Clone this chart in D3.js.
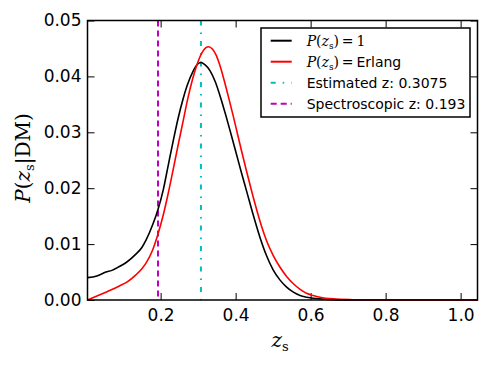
<!DOCTYPE html>
<html lang="en">
<head>
<meta charset="UTF-8">
<title>P(zs|DM)</title>
<script src="https://d3js.org/d3.v7.min.js"></script>
<style>
    body { margin: 0; background: #fff; }
    svg { display: block; }
    .axis text { font-family: "DejaVu Sans", sans-serif; font-size: 17px; fill: #000; }
    .axis line { stroke: #000; stroke-width: 1; }
    .legend text { font-family: "DejaVu Sans", sans-serif; font-size: 14px; }
    .math { font-family: "DejaVu Serif", "Liberation Serif", serif; }
</style>
</head>
<body>
<svg id="chart" width="490" height="366"></svg>
<script>
// P(zs) = 1 curve
const flatZ = [0.005, 0.03, 0.054, 0.07, 0.09, 0.11, 0.134, 0.15, 0.161, 0.179, 0.193, 0.207,
    0.220, 0.234, 0.247, 0.260, 0.271, 0.287, 0.300, 0.308, 0.318, 0.332, 0.346, 0.360,
    0.374, 0.388, 0.401, 0.415, 0.430, 0.447, 0.465, 0.482, 0.500, 0.518, 0.536, 0.554,
    0.572, 0.590, 0.607, 0.643, 0.70, 0.80, 1.045];
const flatP = [0.0040, 0.0043, 0.0050, 0.0053, 0.0060, 0.0068, 0.0082, 0.0094, 0.0107, 0.0135, 0.0162, 0.0197,
    0.0240, 0.0286, 0.0326, 0.0360, 0.0384, 0.0410, 0.0423, 0.0425, 0.0421, 0.0410, 0.0390, 0.0362,
    0.0330, 0.0296, 0.0264, 0.0229, 0.0193, 0.0152, 0.0112, 0.0080, 0.0054, 0.0036, 0.0023, 0.0014,
    0.0008, 0.0005, 0.0003, 0.0001, 0.0, 0.0, 0.0];

// P(zs) = Erlang curve
const erlangZ = [0.005, 0.03, 0.054, 0.09, 0.11, 0.134, 0.150, 0.161, 0.179, 0.193, 0.207, 0.220,
    0.233, 0.246, 0.260, 0.273, 0.286, 0.298, 0.310, 0.320, 0.328, 0.338, 0.348, 0.358,
    0.369, 0.381, 0.394, 0.405, 0.416, 0.430, 0.443, 0.458, 0.470, 0.483, 0.500, 0.518,
    0.536, 0.554, 0.572, 0.589, 0.607, 0.625, 0.660, 0.713, 0.76, 0.85, 1.045];
const erlangP = [0.0, 0.0007, 0.0014, 0.0025, 0.0032, 0.0045, 0.0056, 0.0066, 0.0090, 0.0118, 0.0152, 0.0190,
    0.0232, 0.0275, 0.0320, 0.0362, 0.0397, 0.0423, 0.0442, 0.0451, 0.0453, 0.0449, 0.0438, 0.0420,
    0.0394, 0.0363, 0.0328, 0.0297, 0.0266, 0.0228, 0.0194, 0.0157, 0.0130, 0.0105, 0.0080, 0.0059,
    0.0042, 0.0029, 0.0019, 0.0012, 0.0008, 0.0005, 0.0002, 0.00005, 0.0, 0.0, 0.0];

const estimatedZ = 0.3075;
const spectroZ = 0.193;

const xTicks = [0.2, 0.4, 0.6, 0.8, 1.0];
const yTicks = [0.00, 0.01, 0.02, 0.03, 0.04, 0.05];

const margin = { top: 20.5, right: 12.5, bottom: 66, left: 87.5 };
const width = 490 - margin.left - margin.right;
const height = 366 - margin.top - margin.bottom;

const svg = d3.select("#chart").append("g")
    .attr("transform", `translate(${margin.left},${margin.top})`);

const x = d3.scaleLinear().domain([0.005, 1.045]).range([0, width]);
const y = d3.scaleLinear().domain([0, 0.05]).range([height, 0]);

// axes, ticks pointing inward
svg.append("g").attr("class", "axis")
    .attr("transform", `translate(0,${height})`)
    .call(d3.axisBottom(x).tickValues(xTicks).tickSize(-7).tickPadding(9).tickFormat(d3.format(".1f")))
    .call(g => g.select(".domain").remove());
svg.append("g").attr("class", "axis")
    .call(d3.axisTop(x).tickValues(xTicks).tickSize(-7).tickFormat(""))
    .call(g => g.select(".domain").remove());
svg.append("g").attr("class", "axis")
    .call(d3.axisLeft(y).tickValues(yTicks).tickSize(-7).tickPadding(6).tickFormat(d3.format(".2f")))
    .call(g => g.select(".domain").remove());
svg.append("g").attr("class", "axis")
    .attr("transform", `translate(${width},0)`)
    .call(d3.axisRight(y).tickValues(yTicks).tickSize(-7).tickFormat(""))
    .call(g => g.select(".domain").remove());

// reference lines
svg.append("line")
    .attr("x1", x(spectroZ)).attr("x2", x(spectroZ))
    .attr("y1", 0).attr("y2", height)
    .attr("stroke", "#bf00bf").attr("stroke-width", 2)
    .attr("stroke-dasharray", "6,4");
svg.append("line")
    .attr("x1", x(estimatedZ)).attr("x2", x(estimatedZ))
    .attr("y1", 0).attr("y2", height)
    .attr("stroke", "#00bfbf").attr("stroke-width", 2)
    .attr("stroke-dasharray", "5,7,1.5,7");

const line = d3.line()
    .x(d => x(d[0]))
    .y(d => y(d[1]))
    .curve(d3.curveMonotoneX);

svg.append("path")
    .datum(flatZ.map((z, i) => [z, flatP[i]]))
    .attr("fill", "none").attr("stroke", "#000").attr("stroke-width", 1.6)
    .attr("d", line);
svg.append("path")
    .datum(erlangZ.map((z, i) => [z, erlangP[i]]))
    .attr("fill", "none").attr("stroke", "#ff0000").attr("stroke-width", 1.6)
    .attr("d", line);

// frame
svg.append("rect")
    .attr("width", width).attr("height", height)
    .attr("fill", "none").attr("stroke", "#000").attr("stroke-width", 1.5);

// axis labels
const root = d3.select("#chart");
const xl = root.append("text").attr("class", "math")
    .attr("x", 280).attr("y", 347)
    .attr("text-anchor", "middle").attr("font-size", 20);
xl.append("tspan").attr("font-style", "italic").text("z");
xl.append("tspan").attr("font-size", 13).attr("dy", 4).text("s");

const yl = root.append("text").attr("class", "math")
    .attr("transform", "translate(30,158) rotate(-90)")
    .attr("text-anchor", "middle").attr("font-size", 20);
yl.append("tspan").attr("font-style", "italic").text("P");
yl.append("tspan").text("(");
yl.append("tspan").attr("font-style", "italic").text("z");
yl.append("tspan").attr("font-size", 13).attr("dy", 4).text("s");
yl.append("tspan").attr("dy", -4).text("|DM)");

// legend
const legend = root.append("g").attr("class", "legend")
    .attr("transform", "translate(261,28)");
legend.append("rect")
    .attr("width", 209).attr("height", 89)
    .attr("fill", "#fff").attr("stroke", "#000").attr("stroke-width", 1.5);

const legendItems = [
    { color: "#000", dash: null, label: "1" },
    { color: "#ff0000", dash: null, label: "Erlang" },
    { color: "#00bfbf", dash: "5,7,1.5,7", label: "Estimated z: " + estimatedZ },
    { color: "#bf00bf", dash: "6,4", label: "Spectroscopic z: " + spectroZ }
];

legendItems.forEach((item, i) => {
    const row = legend.append("g").attr("transform", `translate(0,${12.7 + i * 21})`);
    row.append("line")
        .attr("x1", 9.7).attr("x2", 30.7)
        .attr("stroke", item.color).attr("stroke-width", 2)
        .attr("stroke-dasharray", item.dash);
    const t = row.append("text").attr("x", 45.7).attr("y", 5);
    if (i < 2) {
        t.append("tspan").attr("class", "math").attr("font-style", "italic").text("P");
        t.append("tspan").attr("class", "math").text("(");
        t.append("tspan").attr("class", "math").attr("font-style", "italic").text("z");
        t.append("tspan").attr("class", "math").attr("font-size", 9).attr("dy", 3).text("s");
        t.append("tspan").attr("class", "math").attr("dy", -3).text(")\u2009=\u2009");
        t.append("tspan").attr("class", i === 0 ? "math" : null).text(item.label);
    } else {
        t.text(item.label);
    }
});
</script>
</body>
</html>
